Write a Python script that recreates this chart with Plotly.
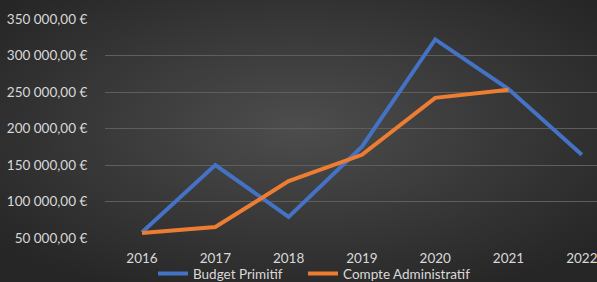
import plotly.graph_objects as go
import base64

years = [2016, 2017, 2018, 2019, 2020, 2021, 2022]
budget_primitif = [58000, 150000, 79000, 175000, 322000, 254000, 164000]
compte_admin = [57000, 65000, 128000, 164000, 242000, 253000]

y_ticks = [50000, 100000, 150000, 200000, 250000, 300000, 350000]
y_tick_labels = ["50 000,00 €", "100 000,00 €", "150 000,00 €", "200 000,00 €",
                 "250 000,00 €", "300 000,00 €", "350 000,00 €"]

svg = ('<svg xmlns="http://www.w3.org/2000/svg" width="597" height="282">'
       '<defs><radialGradient id="g" cx="50%" cy="45%" r="65%">'
       '<stop offset="0%" stop-color="#4d4d4d"/>'
       '<stop offset="100%" stop-color="#262626"/>'
       '</radialGradient></defs>'
       '<rect width="597" height="282" fill="url(#g)"/></svg>')
bg = "data:image/svg+xml;base64," + base64.b64encode(svg.encode()).decode()

fig = go.Figure()
fig.add_trace(go.Scatter(x=years, y=budget_primitif, mode="lines", name="Budget Primitif",
                         line=dict(color="#4472C4", width=4), legend="legend"))
fig.add_trace(go.Scatter(x=years[:len(compte_admin)], y=compte_admin, mode="lines",
                         name="Compte Administratif",
                         line=dict(color="#ED7D31", width=4), legend="legend2"))

legend_style = dict(orientation="h", xanchor="left", y=-0.163, yanchor="middle",
                    font=dict(size=13.5, color="#d9d9d9"), bgcolor="rgba(0,0,0,0)")

fig.update_layout(
    width=597, height=282,
    margin=dict(l=105, r=0, t=19, b=44, autoexpand=False),
    paper_bgcolor="#2e2e2e", plot_bgcolor="rgba(0,0,0,0)",
    font=dict(family="Lato", size=13.5, color="#d9d9d9"),
    images=[dict(source=bg, xref="paper", yref="paper", x=-105/492, y=1 + 19/219,
                 sizex=597/492, sizey=282/219, sizing="stretch", layer="below",
                 xanchor="left", yanchor="top")],
    showlegend=True,
    legend=dict(x=(153 - 105) / 492, **legend_style),
    legend2=dict(x=(303 - 105) / 492, **legend_style),
    xaxis=dict(range=[2015.495, 2022.207], tickvals=years, ticktext=[str(y) for y in years],
               showgrid=False, zeroline=False, showline=False, automargin=False,
               ticklabeloverflow="allow",
               ticks="outside", ticklen=8, tickcolor="rgba(0,0,0,0)"),
    yaxis=dict(range=[50000, 350000], tickvals=y_ticks, ticktext=y_tick_labels,
               showgrid=True, gridcolor="#5e5e5e", gridwidth=1, zeroline=False, showline=False,
               automargin=False,
               ticks="outside", ticklen=14, tickcolor="rgba(0,0,0,0)"),
)

fig.write_html("out.html", config={"displayModeBar": False},
               post_script="document.body.style.margin='0';document.body.style.background='#262626';document.body.style.overflow='hidden';")
